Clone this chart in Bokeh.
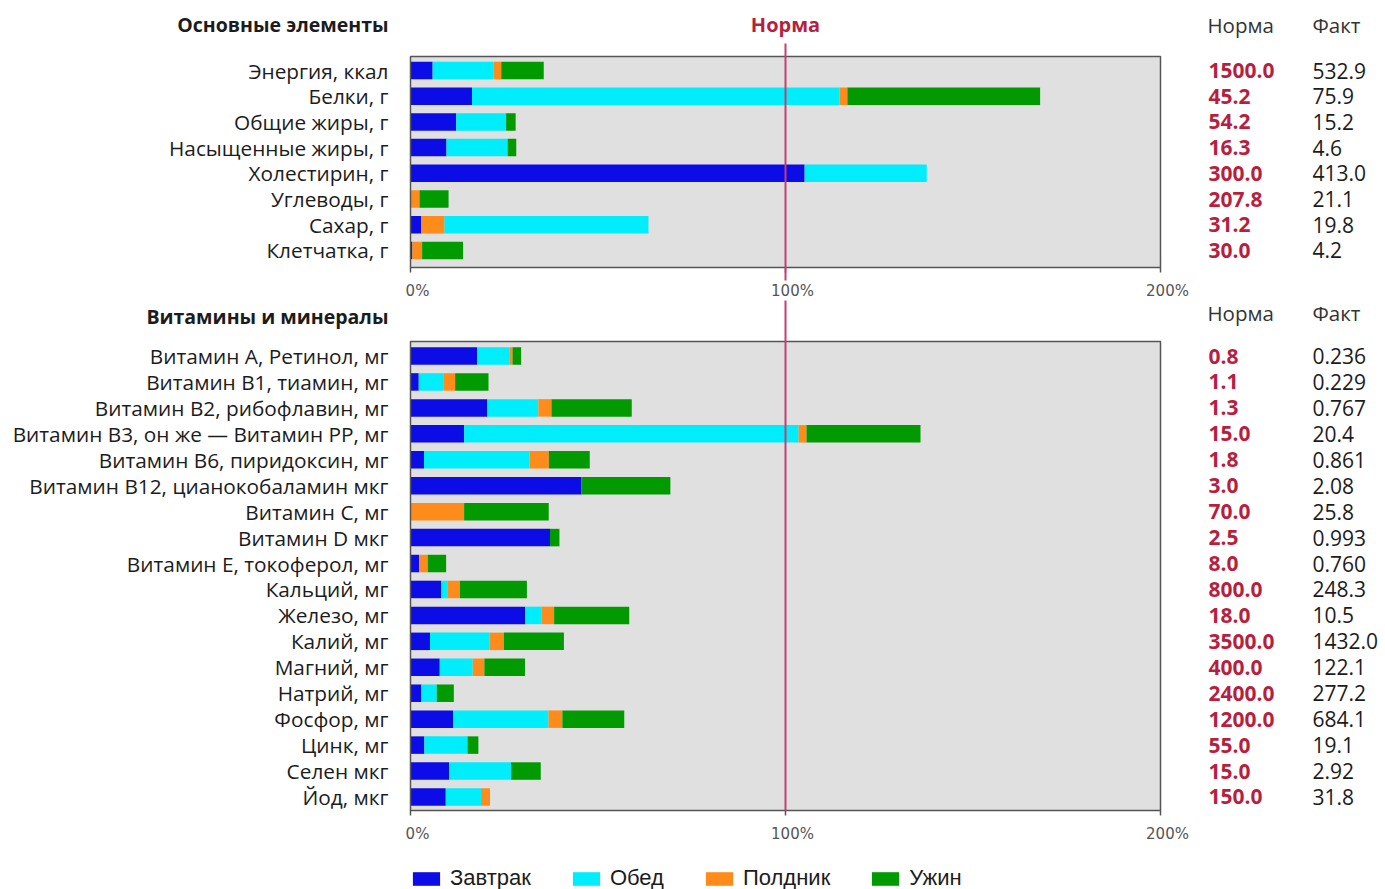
from bokeh.plotting import figure
from bokeh.models import Range1d, ColumnDataSource, Legend, LegendItem
from bokeh.core.properties import value
from bokeh.embed import file_html
from bokeh.resources import INLINE

# ---------------------------------------------------------------- data
MEALS = ["Завтрак", "Обед", "Полдник", "Ужин"]
MEAL_COLORS = ["#0c0ce6", "#00eefc", "#ff8c1a", "#019a01"]

# share of the daily norm (%) eaten at each meal
main_names = ["Энергия, ккал", "Белки, г", "Общие жиры, г", "Насыщенные жиры, г",
              "Холестирин, г", "Углеводы, г", "Сахар, г", "Клетчатка, г"]
main_breakfast = [5.9, 16.4, 12.2, 9.6, 105.1, 0.0, 2.9, 0.5]
main_lunch = [16.3, 98.0, 13.3, 16.3, 32.57, 0.0, 54.46, 0.0]
main_snack = [2.0, 2.1, 0.0, 0.0, 0.0, 2.4, 6.1, 2.6]
main_dinner = [11.33, 51.4, 2.54, 2.3, 0.0, 7.75, 0.0, 10.9]
main_norm = ["1500.0", "45.2", "54.2", "16.3", "300.0", "207.8", "31.2", "30.0"]
main_fact = ["532.9", "75.9", "15.2", "4.6", "413.0", "21.1", "19.8", "4.2"]
# rows whose segments are stacked in a different meal order
main_stack_order = {6: [0, 2, 1, 3]}

vit_names = ["Витамин А, Ретинол, мг", "Витамин В1, тиамин, мг",
             "Витамин В2, рибофлавин, мг", "Витамин В3, он же — Витамин PP, мг",
             "Витамин В6, пиридоксин, мг", "Витамин В12, цианокобаламин мкг",
             "Витамин С, мг", "Витамин D мкг", "Витамин Е, токоферол, мг",
             "Кальций, мг", "Железо, мг", "Калий, мг", "Магний, мг", "Натрий, мг",
             "Фосфор, мг", "Цинк, мг", "Селен мкг", "Йод, мкг"]
vit_breakfast = [17.8, 2.2, 20.5, 14.3, 3.6, 45.6, 0.0, 37.2, 2.3,
                 8.2, 30.6, 5.2, 7.8, 2.9, 11.4, 3.7, 10.3, 9.4]
vit_lunch = [8.7, 6.7, 13.6, 89.2, 28.1, 0.0, 0.0, 0.0, 0.0,
             1.6, 4.4, 15.9, 8.8, 4.1, 25.4, 11.5, 16.5, 9.4]
vit_snack = [0.7, 3.0, 3.5, 2.1, 5.2, 0.0, 14.3, 0.0, 2.3,
             3.4, 3.3, 3.8, 3.1, 0.0, 3.7, 0.0, 0.0, 2.4]
vit_dinner = [2.3, 8.9, 21.4, 30.4, 10.9, 23.7, 22.56, 2.52, 4.9,
              17.84, 20.03, 16.01, 10.83, 4.55, 16.5, 2.9, 7.93, 0.0]
vit_norm = ["0.8", "1.1", "1.3", "15.0", "1.8", "3.0", "70.0", "2.5", "8.0",
            "800.0", "18.0", "3500.0", "400.0", "2400.0", "1200.0", "55.0", "15.0", "150.0"]
vit_fact = ["0.236", "0.229", "0.767", "20.4", "0.861", "2.08", "25.8", "0.993", "0.760",
            "248.3", "10.5", "1432.0", "122.1", "277.2", "684.1", "19.1", "2.92", "31.8"]

tick_values = [0, 100, 200]
tick_labels = ["0%", "100%", "200%"]

# ---------------------------------------------------------------- layout (pixels)
W, H = 1385, 889
X0_PX = 410.0          # screen x of 0 %
PX_PER_PCT = 3.75      # screen pixels per percent
ROW_H = 17.5           # bar thickness in pixels

top_y0, top_step = 70.0, 25.7
bot_y0, bot_step = 355.5, 25.94
top_rows = [top_y0 + i * top_step for i in range(len(main_names))]
bot_rows = [bot_y0 + i * bot_step for i in range(len(vit_names))]
top_box = (56.0, 267.0)
bot_box = (341.0, 810.0)

p = figure(width=W, height=H, output_backend="svg", toolbar_location=None,
           x_range=Range1d(-X0_PX / PX_PER_PCT, (W - X0_PX) / PX_PER_PCT),
           y_range=Range1d(H, 0),
           x_axis_location=None, y_axis_location=None,
           min_border=0, outline_line_color=None, background_fill_color="white")
p.xgrid.visible = False
p.ygrid.visible = False

FONT = value("Open Sans")
TXT = "#1c1c1c"
RED = "#b81f3f"
LINE_RED = "#c2416e"
BORDER = "#555555"

# panel backgrounds
for top, bottom in (top_box, bot_box):
    p.quad(left=0, right=200, top=top, bottom=bottom,
           fill_color="#e0e0e0", line_color=None)

# stacked meal segments
seg = [{"y": [], "left": [], "right": []} for _ in MEALS]


def add_panel(meals, ys, overrides):
    for i, y in enumerate(ys):
        start = 0.0
        for m in overrides.get(i, [0, 1, 2, 3]):
            v = meals[m][i]
            if v > 0:
                seg[m]["y"].append(y)
                seg[m]["left"].append(start)
                seg[m]["right"].append(start + v)
            start += v


add_panel([main_breakfast, main_lunch, main_snack, main_dinner], top_rows, main_stack_order)
add_panel([vit_breakfast, vit_lunch, vit_snack, vit_dinner], bot_rows, {})

bar_renderers = []
for m, color in enumerate(MEAL_COLORS):
    r = p.hbar(y="y", left="left", right="right", height=ROW_H,
               source=ColumnDataSource(seg[m]), fill_color=color, line_color=None)
    bar_renderers.append(r)

# panel frames and ticks
for top, bottom in (top_box, bot_box):
    p.quad(left=0, right=200, top=top, bottom=bottom,
           fill_alpha=0, line_color=BORDER, line_width=1.5)
    p.segment(x0=tick_values, x1=tick_values, y0=[bottom] * 3, y1=[bottom + 5] * 3,
              line_color=BORDER, line_width=1.5)
    p.text(x=tick_values, y=[bottom + 23] * 3, text=tick_labels, x_offset=7,
           text_font=value("DejaVu Sans"), text_font_size="15px", text_color="#555555",
           text_align="center", text_baseline="middle")

# norm line
p.segment(x0=[100, 100], x1=[100, 100], y0=[43, 300], y1=[280, bot_box[1]],
          line_color=LINE_RED, line_width=2)
p.text(x=[100], y=[24], text=["Норма"], text_font=FONT, text_font_style="bold",
       text_font_size="20px", text_color=RED, text_align="center", text_baseline="middle")

# section headers
p.text(x=[0, 0], y=[24, 316], text=["Основные элементы", "Витамины и минералы"],
       x_offset=-22, text_font=FONT, text_font_style="bold", text_font_size="19.5px",
       text_color=TXT, text_align="right", text_baseline="middle")
p.text(x=[200, 200], y=[24, 312], text=["Норма", "Норма"], x_offset=47,
       text_font=FONT, text_font_size="20.5px", text_color="#333333",
       text_align="left", text_baseline="middle")
p.text(x=[200, 200], y=[24, 312], text=["Факт", "Факт"], x_offset=152,
       text_font=FONT, text_font_size="20.5px", text_color="#333333",
       text_align="left", text_baseline="middle")

# row labels and values
for names, ys, norms, facts in ((main_names, top_rows, main_norm, main_fact),
                                (vit_names, bot_rows, vit_norm, vit_fact)):
    p.text(x=[0] * len(ys), y=ys, text=names, x_offset=-22,
           text_font=FONT, text_font_size="20.8px", text_color=TXT,
           text_align="right", text_baseline="middle")
    p.text(x=[200] * len(ys), y=ys, text=norms, x_offset=48,
           text_font=FONT, text_font_style="bold", text_font_size="21px",
           text_color=RED, text_align="left", text_baseline="middle")
    p.text(x=[200] * len(ys), y=ys, text=facts, x_offset=152,
           text_font=FONT, text_font_size="21px", text_color=TXT,
           text_align="left", text_baseline="middle")

legend = Legend(items=[LegendItem(label=name, renderers=[r])
                       for name, r in zip(MEALS, bar_renderers)],
                orientation="horizontal", location=(409, -2),
                glyph_width=34, glyph_height=17, label_height=17,
                label_standoff=7, spacing=38, padding=0, margin=0,
                border_line_alpha=0, background_fill_alpha=0,
                label_text_font="'Liberation Sans Narrow', 'Liberation Sans'",
                label_text_font_size="22px", label_text_color=TXT)
p.add_layout(legend)

open("out.html", "w").write(file_html(p, INLINE))
